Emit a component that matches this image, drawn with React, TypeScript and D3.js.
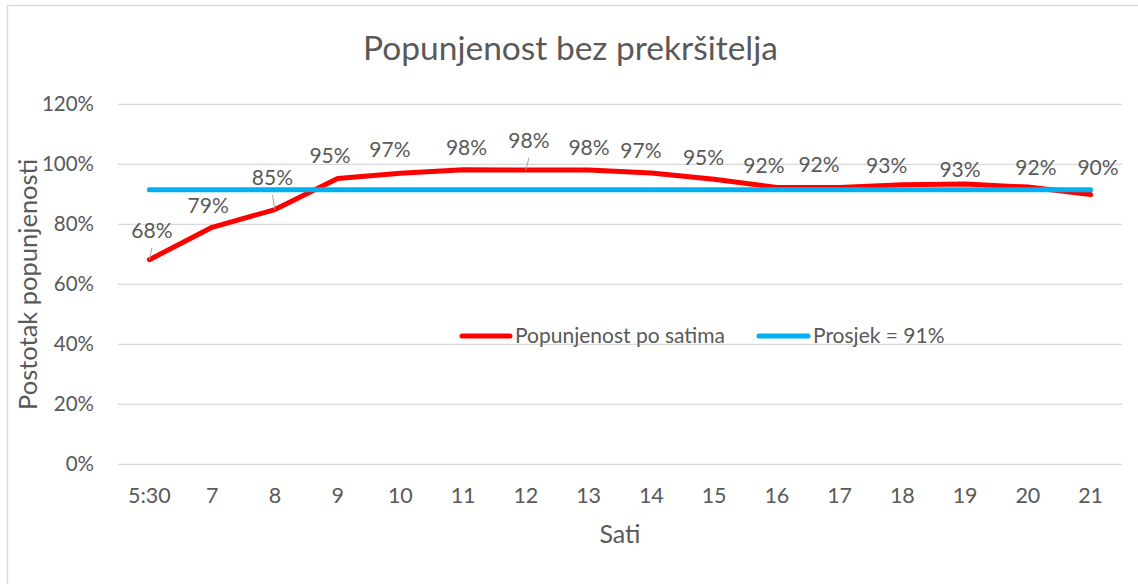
import React from "react";
import * as d3 from "d3";

const categories = ["5:30", "7", "8", "9", "10", "11", "12", "13", "14", "15", "16", "17", "18", "19", "20", "21"];
const occupancy = [0.682, 0.79, 0.849, 0.953, 0.97, 0.982, 0.981, 0.981, 0.971, 0.95, 0.923, 0.923, 0.932, 0.934, 0.924, 0.899];
const average = [0.915, 0.915, 0.915, 0.915, 0.915, 0.915, 0.915, 0.915, 0.915, 0.915, 0.915, 0.915, 0.915, 0.915, 0.915, 0.915];
const yTicks = [0, 0.2, 0.4, 0.6, 0.8, 1.0, 1.2];
const seriesNames = ["Popunjenost po satima", "Prosjek = 91%"];
const title = "Popunjenost bez prekršitelja";
const xTitle = "Sati";
const yTitle = "Postotak popunjenosti";

// label placement offsets (relative to the point): centre x, baseline y
const labelDx = [2.6, -4, -2.4, -7.6, -10.4, 3.4, 3.1, 0.4, -10.4, -10.6, -12.9, -20.6, -15.7, -5.1, 8.1, 7.4];
const labelDy = [-21.7, -14, -24.6, -15.4, -16.3, -14.7, -22.3, -15, -14.7, -14.3, -14.1, -15.1, -11.4, -7.4, -12.1, -19.6];
const leaderIdx = [0, 2, 6];

const W = 1138;
const H = 584;
const FONT = "Lato, 'Open Sans', sans-serif";
const TXT = "#595959";
const GRID = "#D9D9D9";
const RED = "#FF0000";
const BLUE = "#00B0F0";

export default function App() {
  const x = d3.scaleBand<string>().domain(categories).range([118, 1122]);
  const y = d3.scaleLinear().domain([0, 1.2]).range([464.3, 104.3]);
  const px = (i: number) => (x(categories[i]) as number) + x.bandwidth() / 2;
  const fmt = d3.format(".0%");

  const line = d3
    .line<number>()
    .x((_, i) => px(i))
    .y((d) => y(d));

  return (
    <svg width={W} height={H} style={{ position: "absolute", left: 0, top: 0, background: "#fff" }} fontFamily={FONT}>
      <rect x={7.5} y={5.5} width={1300} height={800} fill="#fff" stroke={GRID} strokeWidth={1.3} />
      <text x={570.5} y={60} textAnchor="middle" fontSize={33.5} fill={TXT}>{title}</text>

      {yTicks.map((t) => (
        <g key={t}>
          <line x1={118} x2={1122} y1={y(t)} y2={y(t)} stroke={GRID} strokeWidth={1.3} />
          <text x={94} y={y(t)} dy="0.35em" textAnchor="end" fontSize={20.5} fill={TXT}>{fmt(t)}</text>
        </g>
      ))}

      {categories.map((c, i) => (
        <text key={c} x={px(i)} y={503} textAnchor="middle" fontSize={21.5} fill={TXT}>{c}</text>
      ))}

      <text x={620} y={543} textAnchor="middle" fontSize={25} fill={TXT}>{xTitle}</text>
      <text transform={`translate(37,284.3) rotate(-90)`} textAnchor="middle" fontSize={25.5} fill={TXT}>{yTitle}</text>

      <path d={line(occupancy) || ""} fill="none" stroke={RED} strokeWidth={5} strokeLinejoin="round" strokeLinecap="round" />
      <path d={line(average) || ""} fill="none" stroke={BLUE} strokeWidth={5} strokeLinejoin="round" strokeLinecap="round" />

      {leaderIdx.map((i) => (
        <line key={i} x1={px(i) + labelDx[i]} y1={y(occupancy[i]) + labelDy[i] + 10} x2={px(i)} y2={y(occupancy[i])} stroke="#A6A6A6" strokeWidth={1} />
      ))}
      {occupancy.map((v, i) => (
        <text key={i} x={px(i) + labelDx[i]} y={y(v) + labelDy[i]} textAnchor="middle" fontSize={21} fill={TXT}>{fmt(v)}</text>
      ))}

      <g>
        <line x1={462} x2={510} y1={336} y2={336} stroke={RED} strokeWidth={5} strokeLinecap="round" />
        <text x={515} y={343} fontSize={21} fill={TXT}>{seriesNames[0]}</text>
        <line x1={759} x2={808} y1={336} y2={336} stroke={BLUE} strokeWidth={5} strokeLinecap="round" />
        <text x={813} y={343} fontSize={21} fill={TXT}>{seriesNames[1]}</text>
      </g>
    </svg>
  );
}
